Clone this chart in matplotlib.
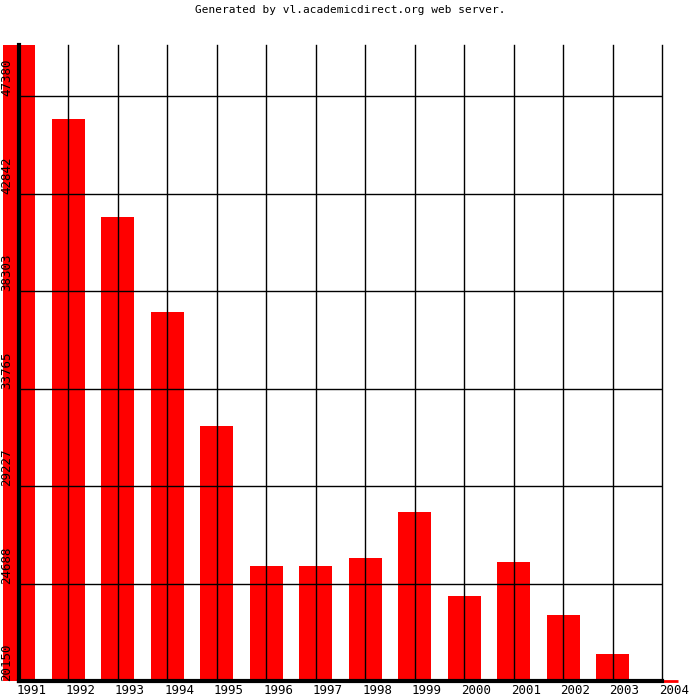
import matplotlib
matplotlib.use("Agg")
import matplotlib.pyplot as plt

years = [1991, 1992, 1993, 1994, 1995, 1996, 1997, 1998, 1999, 2000, 2001, 2002, 2003, 2004]
values = [49756, 46311, 41749, 37327, 32020, 25503, 25503, 25876, 28017, 24107, 25689, 23222, 21407, 20150]
ytick_values = [20150, 24688, 29227, 33765, 38303, 42842, 47380]
ytick_labels = ["20150", "24688", "29227", "33765", "38303", "42842", "47380"]
title = "Generated by vl.academicdirect.org web server."

W, H = 700, 700
fig = plt.figure(figsize=(7, 7), dpi=100)
left, right, top, bottom = 19, 662, 45, 681
ax = fig.add_axes([left / W, 1 - bottom / H, (right - left) / W, (bottom - top) / H])

ymin = ytick_values[0]
ymax = max(values)
ax.set_xlim(years[0], years[-1])
ax.set_ylim(ymin, ymax)

bar_w = 0.667
for x, v in zip(years, values):
    h = v - ymin
    if h > 0:
        ax.bar(x, h, bottom=ymin, width=bar_w, color="#ff0000", linewidth=0, zorder=1, clip_on=False)
    else:
        ax.plot([x - bar_w / 2, x + bar_w / 2], [ymin, ymin], color="#ff0000", lw=2.0,
                zorder=1, clip_on=False, solid_capstyle="butt")

# gridlines
for yv in ytick_values[1:]:
    ax.axhline(yv, color="black", lw=1.0, zorder=3)
for x in years[1:]:
    ax.axvline(x, color="black", lw=1.0, zorder=3, clip_on=False)

for s in ["top", "right"]:
    ax.spines[s].set_visible(False)
for s in ["left", "bottom"]:
    ax.spines[s].set_linewidth(3)
    ax.spines[s].set_color("black")
    ax.spines[s].set_zorder(5)
ax.set_xticks([])
ax.set_yticks([])
ax.patch.set_alpha(0)

mono = "DejaVu Sans Mono"
# x labels
for x in years:
    ax.text(x - 0.06, -9 / (bottom - top), str(x), transform=ax.get_xaxis_transform(),
            ha="left", va="center", fontsize=9, family=mono, clip_on=False)
# y labels
for yv, lab in zip(ytick_values, ytick_labels):
    ax.text(-12 / (right - left), yv, lab, transform=ax.get_yaxis_transform(),
            rotation=90, ha="center", va="bottom", fontsize=9, family=mono, clip_on=False)

fig.text(0.5, 1 - 10 / H, title, ha="center", va="center", fontsize=8, family=mono)

fig.savefig("out.png", dpi=100, facecolor="white")
